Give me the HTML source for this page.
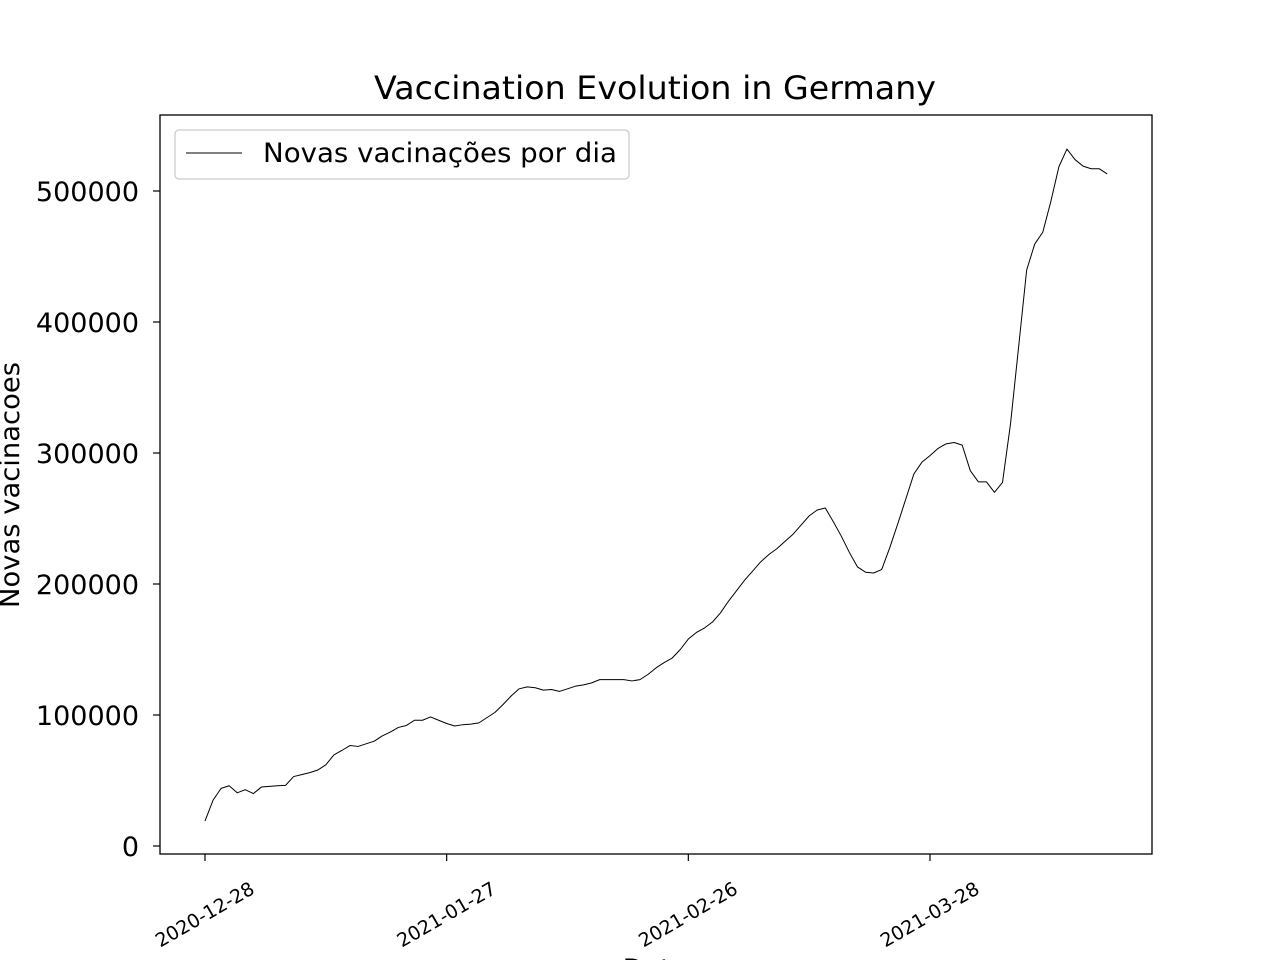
<!DOCTYPE html>
<html><head><meta charset="utf-8"><style>
html,body{margin:0;padding:0;background:#fff;}
svg{display:block;font-family:"DejaVu Sans","Liberation Sans",sans-serif;}
</style></head><body>
<svg id="chart" width="1280" height="960" viewBox="0 0 1280 960">
<rect x="0" y="0" width="1280" height="960" fill="#fff"/>
<text x="655" y="99" text-anchor="middle" font-size="32" textLength="562" lengthAdjust="spacingAndGlyphs" fill="#000">Vaccination Evolution in Germany</text>
<g id="plot"></g>
<rect x="160" y="115" width="992" height="739" fill="none" stroke="#000" stroke-width="1.3"/>
<text transform="translate(19,485) rotate(-90)" text-anchor="middle" font-size="27" textLength="246" lengthAdjust="spacingAndGlyphs" fill="#000">Novas vacinacoes</text>
<text x="655" y="978" text-anchor="middle" font-size="27" fill="#000">Data</text>
<g>
<rect x="175" y="130" width="454" height="49" rx="4" fill="#fff" stroke="#ccc" stroke-width="1.3"/>
<line x1="186" y1="153" x2="242" y2="153" stroke="#000" stroke-width="1"/>
<text x="263" y="162" font-size="27" textLength="354" lengthAdjust="spacingAndGlyphs" fill="#000">Novas vacinações por dia</text>
</g>
</svg>
<script>
const values = [19,35,44,46,40.6,43,40,45,45.5,46,46.3,53,54.5,56,58,62,69.5,73,76.7,76,78,80,84,87,90.5,92,96,96,98.5,96,93.5,91.6,92.6,93,94,98,102,108,114.5,120,121.5,120.8,119,119.5,118,120,122,123,124.5,127,127,127,127,126,127,131,136,140,143.5,150,158,163,166.4,171,178,187,195,203,210,217,222.5,227,232.5,238,245,252,256.5,258,247.5,236.4,224,213,209,208.4,211,227.6,246,265,284,293,298,303.5,307,308,306,286.5,278,278,270,277.5,322.6,381,439.7,459.5,468.5,492,518.5,532,524,519,517,517,513];
const yTicks = [0,100000,200000,300000,400000,500000];
const xTickDays = [0,30,60,90];
const xTickLabels = ["2020-12-28","2021-01-27","2021-02-26","2021-03-28"];

const NS = "http://www.w3.org/2000/svg";
const xS = d => 205 + d * (930 - 205) / 90;
const yS = v => 846 - v * (846 - 191) / 500000;
const plot = document.getElementById('plot');

yTicks.forEach(t => {
  const y = yS(t);
  const tk = document.createElementNS(NS, 'line');
  tk.setAttribute('x1', 153); tk.setAttribute('x2', 160);
  tk.setAttribute('y1', y); tk.setAttribute('y2', y);
  tk.setAttribute('stroke', '#000'); tk.setAttribute('stroke-width', '1.2');
  
  
  plot.appendChild(tk);
  const tx = document.createElementNS(NS, 'text');
  tx.setAttribute('x', 139); tx.setAttribute('y', y + 10);
  tx.setAttribute('text-anchor', 'end'); tx.setAttribute('font-size', '27');
  tx.textContent = String(t);
  
  
  plot.appendChild(tx);
});

xTickDays.forEach((d, i) => {
  const x = xS(d);
  const tk = document.createElementNS(NS, 'line');
  tk.setAttribute('x1', x); tk.setAttribute('x2', x);
  tk.setAttribute('y1', 854); tk.setAttribute('y2', 861);
  tk.setAttribute('stroke', '#000'); tk.setAttribute('stroke-width', '1.2');
  
  
  plot.appendChild(tk);
  const tx = document.createElementNS(NS, 'text');
  tx.setAttribute('transform', 'translate(' + x + ',915) rotate(-30)');
  tx.setAttribute('text-anchor', 'middle'); tx.setAttribute('font-size', '19');
  tx.setAttribute('dy', '6');
  tx.textContent = xTickLabels[i];
  
  
  plot.appendChild(tx);
});

const pts = values.map((v, i) => xS(i).toFixed(2) + ',' + yS(v * 1000).toFixed(2)).join(' ');
const line = document.createElementNS(NS, 'polyline');
line.setAttribute('points', pts);
line.setAttribute('fill', 'none'); line.setAttribute('stroke', '#000');
line.setAttribute('stroke-width', '1'); line.setAttribute('stroke-linejoin', 'round');


plot.appendChild(line);
</script>
</body></html>
